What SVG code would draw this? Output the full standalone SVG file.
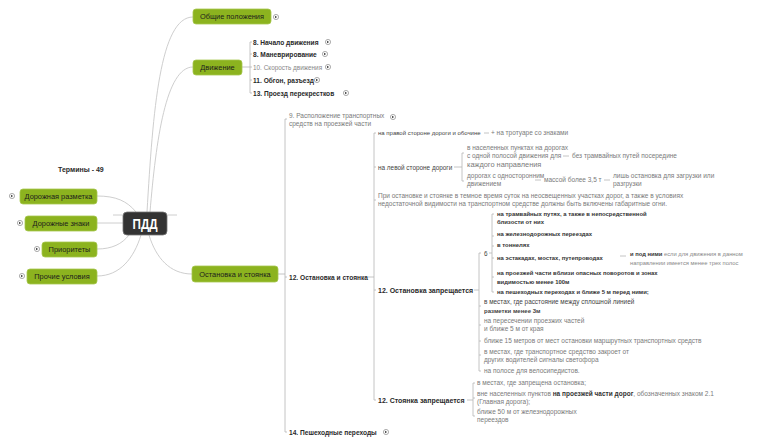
<svg xmlns="http://www.w3.org/2000/svg" xmlns:xlink="http://www.w3.org/1999/xlink" width="768" height="447" viewBox="0 0 768 447">
<defs>
<style>
text{font-family:"Liberation Sans",Arial,sans-serif}
.node rect{fill:#8cb31f;stroke:#a6c64e;stroke-width:0.8}
.node text{font-size:7.4px;fill:#1c1c1c;text-anchor:middle}
.h{font-size:6.6px;font-weight:bold;fill:#2a2a2a}
.h7{font-size:7px;font-weight:bold;fill:#2a2a2a}
.g{font-size:6.5px;fill:#7a7a7a}
.d{font-size:6.4px;fill:#444}
.b{font-size:5.9px;font-weight:bold;fill:#333}
.conn path{fill:none;stroke:#c8c8c8;stroke-width:0.9}
.conn .br{stroke:#b5b5b5;stroke-width:0.8}
</style>
<g id="ico"><circle r="2.6" fill="#fff" stroke="#777" stroke-width="0.6"/><path d="M-1,-1.3 L1.2,0 L-1,1.3 Z" fill="#444"/></g>
</defs>
<rect width="768" height="447" fill="#fff"/>

<g id="connectors" class="conn">
<path d="M113,215 H177"/>
<path d="M147,212 C153,110 160,17 193,17"/>
<path d="M150,212 C156,140 166,67 193,67"/>
<path d="M97,196 C116,196 127,201 136,212"/>
<path d="M97,223 H123"/>
<path d="M97,249 C112,249 122,244 129,235"/>
<path d="M97,276 C120,276 134,258 141,235"/>
<path d="M149,235 C156,258 170,274 192,274"/>
<path class="br" d="M242,67 H250 M252,42 H250 V93 H252 M250,54 H252 M250,67 H252 M250,80 H252"/>
<path class="br" d="M278,274 H285 M287,119 H285 V432 H287 M285,277 H287"/>
<path class="br" d="M368,277 H374 M376,133 H374 V400 H376 M374,167 H376 M374,200 H376 M374,290 H376"/>
<path class="br" d="M484,133 H489"/>
<path class="br" d="M454,167 H462 M464,153 H462 V181 H464"/>
<path class="br" d="M563,156 H569"/>
<path class="br" d="M535,180 H541"/>
<path class="br" d="M604,180 H610"/>
<path class="br" d="M474,290 H479 M481,253 H479 V371 H481 M479,306 H481 M479,325 H481 M479,341 H481 M479,355 H481"/>
<path class="br" d="M489,253 H492 M494,214 H492 V292 H494 M492,236 H494 M492,246 H494 M492,258 H494 M492,277 H494"/>
<path class="br" d="M620,256 H626"/>
<path class="br" d="M467,400 H473 M475,383 H473 V416 H475 M473,398 H475"/>
</g>

<g id="n-pdd"><rect x="123" y="212" width="44" height="23" rx="4" fill="#333" stroke="#777" stroke-width="0.8"/><text x="145" y="229" font-size="14" font-weight="bold" fill="#fff" text-anchor="middle" textLength="25" lengthAdjust="spacingAndGlyphs">ПДД</text></g>

<g id="n-terms"><text class="h7" x="58" y="172">Термины - 49</text></g>

<g id="n-razmetka" class="node"><rect x="20" y="189" width="77" height="15" rx="3"/><text x="58.5" y="199.3">Дорожная разметка</text><use href="#ico" x="12" y="196"/></g>
<g id="n-znaki" class="node"><rect x="25" y="216" width="72" height="15" rx="3"/><text x="61" y="226.3">Дорожные знаки</text><use href="#ico" x="20" y="223"/></g>
<g id="n-prior" class="node"><rect x="42" y="242" width="55" height="15" rx="3"/><text x="69.5" y="252.3">Приоритеты</text><use href="#ico" x="37" y="249"/></g>
<g id="n-prochie" class="node"><rect x="27" y="269" width="70" height="15" rx="3"/><text x="62" y="279.3">Прочие условия</text><use href="#ico" x="22" y="276"/></g>

<g id="n-obshie" class="node"><rect x="193" y="9" width="78" height="15" rx="3"/><text x="232" y="19.3">Общие положения</text><use href="#ico" x="276" y="17"/></g>
<g id="n-dvizh" class="node"><rect x="193" y="60" width="49" height="15" rx="3"/><text x="217.5" y="70.3">Движение</text></g>
<g id="n-ost" class="node"><rect x="192" y="266" width="86" height="16" rx="3"/><text x="235" y="276.6">Остановка и стоянка</text></g>

<g id="n-d8a"><text class="h" x="253" y="44.5">8. Начало движения</text><use href="#ico" x="328" y="42"/></g>
<g id="n-d8b"><text class="h" x="253" y="56.5">8. Маневрирование</text><use href="#ico" x="325" y="54"/></g>
<g id="n-d10"><text x="253" y="69.5" font-size="6.4" fill="#888">10. Скорость движения</text><use href="#ico" x="328" y="67"/></g>
<g id="n-d11"><text class="h" x="253" y="82.5">11. Обгон, разъезд</text><use href="#ico" x="317" y="80"/></g>
<g id="n-d13"><text class="h" x="253" y="95.5">13. Проезд перекрестков</text><use href="#ico" x="346" y="93"/></g>

<g id="n-9"><text class="g" x="289" y="118">9. Расположение транспортных</text><text class="g" x="289" y="126">средств на проезжей части</text><use href="#ico" x="393" y="117"/></g>
<g id="n-12os"><text class="h" x="289" y="279.5">12. Остановка и стоянка</text></g>
<g id="n-14"><text class="h" x="289" y="434.5">14. Пешеходные переходы</text><use href="#ico" x="386" y="432"/></g>

<g id="n-prav"><text x="378" y="135" font-size="6" fill="#444">на правой стороне дороги и обочине</text></g>
<g id="n-trot"><text class="g" x="491" y="135">+ на тротуаре со знаками</text></g>
<g id="n-lev"><text class="d" x="378" y="169.5">на левой стороне дороги</text></g>
<g id="n-nasel"><text class="g" x="467" y="149.5">в населенных пунктах на дорогах</text><text class="g" x="467" y="157.5">с одной полосой движения для</text><text x="467" y="166.5" font-size="7.4" fill="#7a7a7a">каждого направления</text></g>
<g id="n-tram"><text class="g" x="572" y="157.5">без трамвайных путей посередине</text></g>
<g id="n-odnost"><text class="g" x="467" y="178">дорогах с односторонним</text><text class="g" x="467" y="186">движением</text></g>
<g id="n-massa"><text class="g" x="544" y="182">массой более 3,5 т</text></g>
<g id="n-lish"><text class="g" x="613" y="178">лишь остановка для загрузки или</text><text class="g" x="613" y="186">разгрузки</text></g>
<g id="n-temn"><text class="g" x="378" y="198">При остановке и стоянке в темное время суток на неосвещенных участках дорог, а также в условиях</text><text class="g" x="378" y="206">недостаточной видимости на транспортном средстве должны быть включены габаритные огни.</text></g>

<g id="n-ozapr"><text class="h7" x="378" y="292.5">12. Остановка запрещается</text></g>
<g id="n-6"><text class="d" x="484" y="255.5">6</text></g>
<g id="n-tramv"><text class="b" x="497" y="216">на трамвайных путях, а также в непосредственной</text><text class="b" x="497" y="224">близости от них</text></g>
<g id="n-zhd"><text class="b" x="497" y="236">на железнодорожных переездах</text></g>
<g id="n-tonn"><text class="b" x="497" y="246.5">в тоннелях</text></g>
<g id="n-estak"><text class="b" x="497" y="260">на эстакадах, мостах, путепроводах</text></g>
<g id="n-podnimi"><text x="630" y="256" font-size="5.8"><tspan font-weight="bold" fill="#333">и под ними</tspan><tspan fill="#888"> если для движения в данном</tspan></text><text x="630" y="264.5" font-size="5.8" fill="#888">направлении имеется менее трех полос</text></g>
<g id="n-povor"><text class="b" x="497" y="275">на проезжей части вблизи опасных поворотов и зонах</text><text class="b" x="497" y="283.5">видимостью менее 100м</text></g>
<g id="n-pesh"><text class="b" x="497" y="294">на пешеходных переходах и ближе 5 м перед ними;</text></g>
<g id="n-splosh"><text class="d" x="484" y="304">в местах, где расстояние между сплошной линией</text><text x="484" y="312.5" font-size="6" font-weight="bold" fill="#444">разметки менее 3м</text></g>
<g id="n-peres"><text class="g" x="484" y="323">на пересечении проезжих частей</text><text class="g" x="484" y="331">и ближе 5 м от края</text></g>
<g id="n-15m"><text class="g" x="484" y="343">ближе 15 метров от мест остановки маршрутных транспортных средств</text></g>
<g id="n-svetof"><text class="g" x="484" y="353.5">в местах, где транспортное средство закроет от</text><text class="g" x="484" y="361.5">других водителей сигналы светофора</text></g>
<g id="n-velo"><text class="g" x="484" y="373">на полосе для велосипедистов.</text></g>

<g id="n-szapr"><text class="h7" x="378" y="402.5">12. Стоянка запрещается</text></g>
<g id="n-s1"><text class="g" x="477" y="385">в местах, где запрещена остановка;</text></g>
<g id="n-s2"><text class="g" x="477" y="396">вне населенных пунктов <tspan font-weight="bold" fill="#333">на проезжей части дорог</tspan>, обозначенных знаком 2.1</text><text class="g" x="477" y="404">(Главная дорога);</text></g>
<g id="n-s3"><text class="g" x="477" y="414">ближе 50 м от железнодорожных</text><text class="g" x="477" y="422">переездов</text></g>
</svg>
